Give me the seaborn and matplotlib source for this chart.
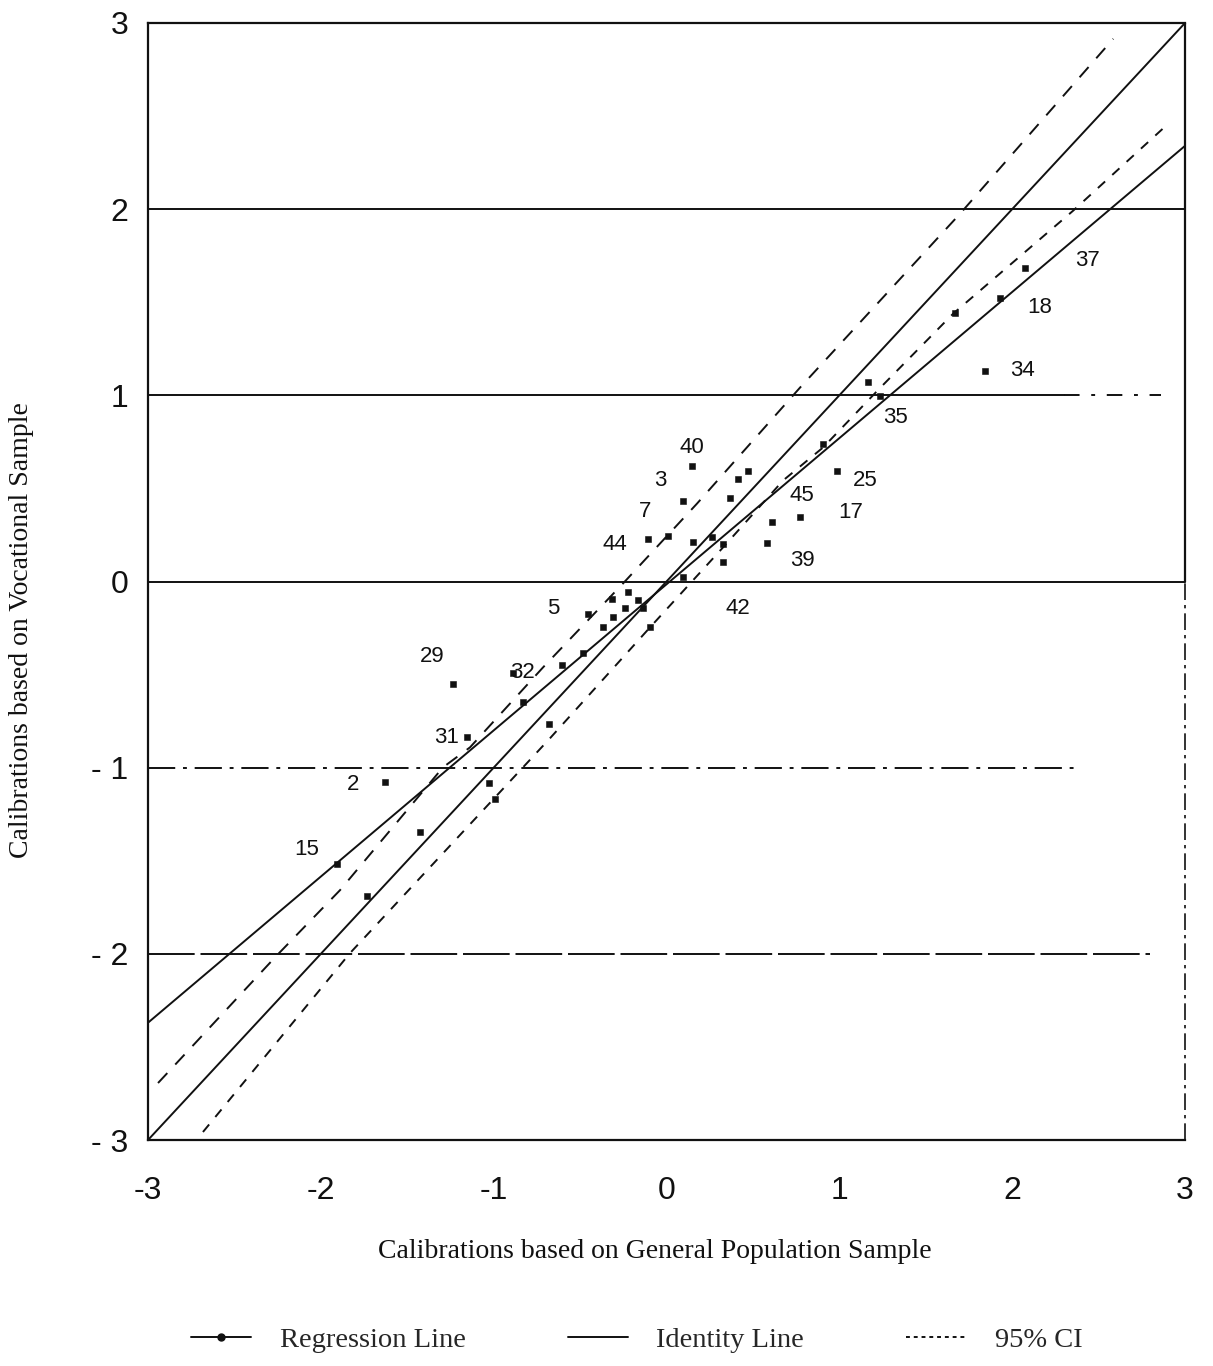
import matplotlib
matplotlib.use("Agg")
import matplotlib.pyplot as plt
from matplotlib.lines import Line2D
import seaborn as sns
import pandas as pd

# Item calibrations: general population sample (x) vs vocational sample (y)
gen_cal = [2.075, 1.93, 1.67, 1.844, 1.167, 1.236, 0.906, 0.987, 0.773, 0.611,
           0.582, 0.472, 0.414, 0.368, 0.148, 0.096, 0.009, -0.106, 0.154, 0.264,
           0.327, 0.327, 0.096, -0.222, -0.315, -0.164, -0.135, -0.24, -0.31, -0.367,
           -0.095, -0.454, -0.483, -0.604, -1.235, -0.888, -0.83, -0.68, -1.154, -1.027,
           -0.992, -1.426, -1.628, -1.906, -1.733]
voc_cal = [1.686, 1.525, 1.44, 1.133, 1.069, 0.994, 0.736, 0.591, 0.344, 0.317,
           0.205, 0.596, 0.548, 0.451, 0.623, 0.435, 0.247, 0.226, 0.21, 0.237,
           0.199, 0.103, 0.022, -0.058, -0.096, -0.101, -0.144, -0.144, -0.193, -0.246,
           -0.246, -0.177, -0.386, -0.45, -0.552, -0.493, -0.649, -0.767, -0.837, -1.085,
           -1.17, -1.347, -1.078, -1.519, -1.69]

# Item numbers printed beside selected points
item_ids = ["37", "18", "34", "35", "25", "45", "17", "39", "42", "40", "3", "7",
            "44", "5", "29", "32", "31", "2", "15"]
item_x = [2.434, 2.162, 2.058, 1.323, 1.149, 0.785, 1.063, 0.785, 0.414, 0.148,
          -0.037, -0.124, -0.297, -0.656, -1.356, -0.836, -1.275, -1.814, -2.080]
item_y = [1.724, 1.471, 1.133, 0.881, 0.543, 0.462, 0.371, 0.113, -0.144, 0.720,
          0.543, 0.376, 0.199, -0.144, -0.402, -0.488, -0.837, -1.089, -1.438]

# Regression and identity lines
reg_x = [-3.0, 3.0]
reg_y = [-2.37, 2.34]
ident_x = [-3.0, 3.0]
ident_y = [-3.0, 3.0]

# 95% confidence limits
ci_hi_x = [-2.942, -2.253, -1.889, -1.293, -1.137, -0.714, -0.251, 0.177, 0.773, 1.699, 2.585]
ci_hi_y = [-2.694, -2.007, -1.658, -0.998, -0.891, -0.461, -0.010, 0.419, 1.042, 1.976, 2.915]
ci_lo_x = [-2.682, -1.831, -0.83, -0.674, -0.095, 0.327, 0.675, 0.906, 1.236, 1.659, 2.353, 2.903]
ci_lo_y = [-2.957, -1.996, -0.998, -0.842, -0.246, 0.183, 0.543, 0.72, 1.04, 1.439, 1.992, 2.459]

# Axis ticks
ticks = [-3, -2, -1, 0, 1, 2, 3]
xtick_labels = ["-3", "-2", "-1", "0", "1", "2", "3"]
ytick_labels = ["- 3", "- 2", "- 1", "0", "1", "2", "3"]

sns.set_theme(style="white")
sans = ["Liberation Sans", "DejaVu Sans"]
serif = ["Liberation Serif", "DejaVu Serif"]
plt.rcParams["font.family"] = sans

fig = plt.figure(figsize=(12.13, 13.66), dpi=100)
ax = fig.add_axes([148 / 1213, 1 - 1140 / 1366, (1185 - 148) / 1213, (1140 - 23) / 1366])

ink = "#111111"
lw = 1.4

# Horizontal reference levels
ax.plot([-3, 3], [2, 2], color=ink, lw=lw)
ax.plot([-3, 2.3], [1, 1], color=ink, lw=lw)
ax.plot([2.3, 2.86], [1, 1], color=ink, lw=lw, linestyle=(0, (8, 6, 2, 6)))
ax.plot([-3, 3], [0, 0], color=ink, lw=lw)
ax.plot([-3, 2.36], [-1, -1], color=ink, lw=lw, linestyle=(0, (14, 4, 2, 4)))
ax.plot([-3, 2.8], [-2, -2], color=ink, lw=lw, linestyle=(0, (24, 3)))

# Diagonal lines
df_reg = pd.DataFrame({"x": reg_x, "y": reg_y})
df_id = pd.DataFrame({"x": ident_x, "y": ident_y})
df_hi = pd.DataFrame({"x": ci_hi_x, "y": ci_hi_y})
df_lo = pd.DataFrame({"x": ci_lo_x, "y": ci_lo_y})
sns.lineplot(data=df_reg, x="x", y="y", ax=ax, color=ink, lw=lw, sort=False, estimator=None)
sns.lineplot(data=df_id, x="x", y="y", ax=ax, color=ink, lw=lw, sort=False, estimator=None)
sns.lineplot(data=df_hi, x="x", y="y", ax=ax, color=ink, lw=lw, sort=False, estimator=None,
             linestyle=(0, (7, 6)))
sns.lineplot(data=df_lo, x="x", y="y", ax=ax, color=ink, lw=lw, sort=False, estimator=None,
             linestyle=(0, (5, 5)))

# Item points
df_pts = pd.DataFrame({"gen": gen_cal, "voc": voc_cal})
sns.scatterplot(data=df_pts, x="gen", y="voc", ax=ax, marker="s", s=22, color=ink,
                edgecolor=ink, linewidth=0.4, zorder=5)

for lab, tx, ty in zip(item_ids, item_x, item_y):
    ax.text(tx, ty, lab, ha="center", va="center", fontsize=16, color=ink, family=sans)

ax.set_xlim(-3, 3)
ax.set_ylim(-3, 3)
ax.set_xticks(ticks)
ax.set_xticklabels(xtick_labels, fontsize=23, family=sans)
ax.set_yticks(ticks)
ax.set_yticklabels(ytick_labels, fontsize=23, family=sans)
ax.tick_params(axis="x", direction="in", length=9, width=1.2, color=ink, pad=26, labelcolor=ink)
ax.tick_params(axis="y", length=0, pad=14, labelcolor=ink)
ax.set_xlabel("")
ax.set_ylabel("")

for side in ["left", "bottom", "top"]:
    ax.spines[side].set_color(ink)
    ax.spines[side].set_linewidth(1.6)
ax.spines["right"].set_visible(False)
ax.plot([3, 3], [0, 3], color=ink, lw=1.6, clip_on=False)
ax.plot([3, 3], [-3, 0], color=ink, lw=1.2, linestyle=(0, (10, 3, 2, 3)), clip_on=False)

# End ticks at x = -3 and 3 are not drawn
for t in ax.xaxis.get_major_ticks():
    if abs(t.get_loc()) == 3:
        t.tick1line.set_visible(False)

fig.text(655 / 1213, 1 - 1252 / 1366, "Calibrations based on General Population Sample",
         ha="center", va="center", fontsize=20, family=serif, color=ink)
fig.text(22 / 1213, 1 - 630 / 1366, "Calibrations based on Vocational Sample",
         ha="center", va="center", rotation=90, fontsize=20, family=serif, color=ink)

handles = [
    Line2D([], [], color=ink, lw=lw, marker="o", markersize=5),
    Line2D([], [], color=ink, lw=lw),
    Line2D([], [], color=ink, lw=lw, linestyle=(0, (2, 2))),
]
fig.legend(handles, ["Regression Line", "Identity Line", "95% CI"],
           loc="center", bbox_to_anchor=(0.525, 0.019), ncol=3, frameon=False,
           handlelength=2.1, columnspacing=3.6, handletextpad=1.0,
           prop={"family": serif, "size": 20.5})

fig.savefig("out.png", dpi=100, facecolor="white")
